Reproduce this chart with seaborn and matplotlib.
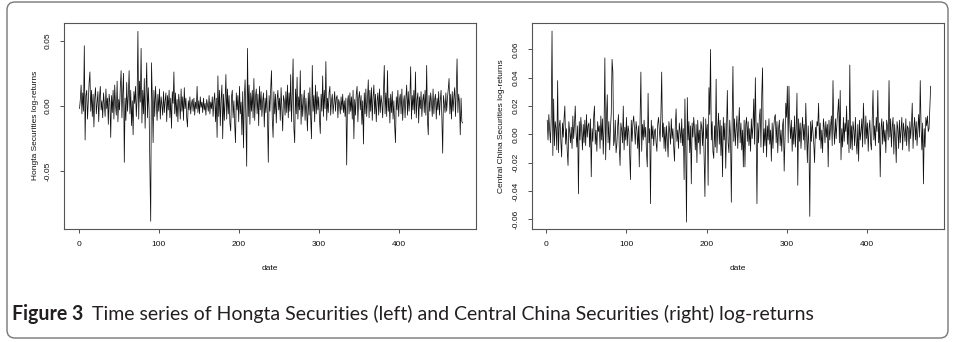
import matplotlib
matplotlib.use("Agg")
import matplotlib.pyplot as plt
import matplotlib.patches as mpatches
import matplotlib.transforms as mtrans
import seaborn as sns
import pandas as pd

# ---------------- data ----------------
hongta = [
    -.002, .005, .016, -.006, .010, -.004, .046, -.026, .008, .012,
    -.010, .004, .018, .026, -.004, .012, -.008, .009, -.016, .006,
    .014, -.006, .002, .011, -.012, .007, .015, -.003, .004, -.009,
    .010, .002, -.008, .013, -.002, .006, -.014, .009, .003, -.024,
    .008, -.005, .012, -.010, .016, .001, -.007, .019, -.012, .005,
    -.003, .014, .027, -.009, .010, .025, -.043, .006, -.011, .018,
    -.004, .008, .027, -.006, .012, -.015, .004, -.022, .011, .002,
    .015, -.008, .006, .057, -.010, .019, .003, .044, -.013, .012,
    -.006, .021, -.017, .009, .033, -.009, .014, -.003, -.049, -.088,
    .033, .006, -.028, .012, -.008, .015, .002, -.011, .009, -.004,
    .013, -.010, .007, .001, -.007, .011, -.005, .004, .010, -.012,
    .008, -.003, .012, -.009, .006, -.017, .011, .002, .026, -.006,
    .010, -.008, .005, -.012, .009, .002, -.010, .013, -.004, .007,
    -.011, .014, -.002, .006, -.009, -.016, .004, -.003, .007, -.006,
    .002, .005, -.004, .006, -.007, .003, -.002, .015, -.005, .004,
    -.006, .007, -.001, .003, -.005, .006, -.003, .002, -.007, .005,
    .001, -.004, .008, -.006, .003, -.002, .007, -.008, .004, .010,
    -.012, .006, -.024, .023, -.008, .012, -.015, .005, .016, -.025,
    .009, -.011, .004, .024, -.010, .013, -.006, .008, -.013, -.019,
    .007, .012, -.009, .004, -.014, -.028, .010, -.003, .008, -.012,
    .015, -.006, .003, -.022, .011, -.032, .006, .020, -.010, -.046,
    .044, -.008, .016, -.014, .010, -.004, .012, -.009, .021, -.011,
    .007, .013, -.006, .009, -.015, .015, -.003, .011, -.008, .004,
    .010, -.016, .006, -.005, .012, -.009, -.043, .008, -.004, .013,
    .027, -.010, -.024, .011, -.006, .009, -.013, .005, .012, -.003,
    .006, -.011, .014, -.002, -.019, .008, .004, -.007, .011, -.005,
    .016, -.009, .010, -.004, .024, -.012, .008, .036, -.017, -.028,
    .013, -.006, .022, -.010, .007, -.003, .027, -.014, .009, -.008,
    .004, .012, -.011, .006, -.005, -.019, .010, -.007, .014, -.009,
    -.025, .031, -.004, .008, -.012, .016, -.006, .011, -.003, .007,
    -.010, -.021, .009, -.004, .023, -.008, .012, -.002, .034, -.011,
    .006, -.005, .010, .015, -.007, .004, .009, -.006, .003, .011,
    -.004, .006, .008, -.009, .005, .002, -.006, .007, -.003, .009,
    -.005, .004, -.008, .006, -.045, .003, .008, -.006, .010, -.004,
    .007, -.010, .012, -.025, .005, -.007, .009, .015, -.012, .006,
    .011, -.003, .008, -.014, .004, -.029, .010, -.006, .013, -.008,
    .005, .020, -.009, .012, -.004, .014, -.011, .007, .016, -.006,
    .009, -.012, .004, .010, -.007, .013, -.005, .008, .002, -.009,
    .012, .031, -.006, .010, -.008, .027, -.004, .006, -.013, .009,
    -.005, .011, -.010, .004, -.015, -.028, .007, -.003, .012, -.008,
    .005, .009, -.006, .013, -.011, .003, .008, -.009, .006, .016,
    -.007, .011, -.004, .006, .030, -.010, .008, -.003, .012, -.006,
    .026, -.009, .005, .010, -.013, .007, -.002, .011, -.008, .004,
    .009, -.005, .012, -.007, .031, -.011, -.022, .008, -.004, .010,
    .003, -.008, .013, -.006, .005, .009, -.010, .006, -.003, .011,
    -.007, .004, .012, -.009, -.036, .008, .002, -.005, .010, -.004,
    .006, .013, .021, -.006, .009, -.010, .011, -.004, .007, .014,
    -.008, .012, .036, -.005, .009, .003, -.022, .006, -.012, -.013,
]

central_china = [
    .010, -.004, .014, .003, -.006, .012, .073, -.015, .025, -.008,
    .009, .004, -.011, .038, -.013, .006, .010, -.005, -.016, .008,
    -.002, .011, .020, -.007, .004, -.012, -.022, .009, .002, -.006,
    .005, -.010, .013, -.003, .007, .020, .001, -.009, .006, -.042,
    .009, -.004, .012, .003, -.011, .007, -.006, .010, -.008, .014,
    -.002, .006, .008, -.009, .011, -.030, .004, -.005, .012, .020,
    -.007, .003, -.012, .009, .002, .006, -.010, .013, -.004, .011,
    -.014, .005, .054, -.018, .012, .028, -.006, .009, -.011, .004,
    .015, .053, .044, -.008, -.004, .010, -.013, -.007, .006, .014,
    -.009, -.022, .008, .003, -.006, .020, -.011, .005, -.004, .012,
    -.008, .006, .002, -.015, -.032, .010, -.005, .008, .013, .004,
    -.007, .009, .003, -.010, .006, -.023, .011, .044, -.012, .007,
    -.004, .010, -.002, .005, -.013, -.023, .029, -.006, .004, -.049,
    .010, -.003, .006, -.008, .002, .004, -.006, -.012, .007, .012,
    .003, -.005, .014, .044, -.002, .008, -.010, .005, -.012, .006,
    -.004, -.016, .009, .002, -.007, .011, -.003, .004, -.009, -.019,
    .006, .018, -.005, .003, -.010, .008, .002, -.006, .011, -.008,
    .004, -.032, .025, -.010, -.062, .026, -.004, .009, -.013, .006,
    -.035, .008, -.002, .012, .004, -.011, .007, -.020, .010, -.006,
    .003, -.014, .009, .005, -.008, .012, -.018, -.044, .011, -.003,
    .007, -.036, .033, .014, .060, -.004, .009, -.012, -.017, .006,
    -.009, .039, -.013, .004, .015, -.007, .010, -.015, .006, -.030,
    .012, -.004, .008, -.024, .003, .031, -.006, -.013, .010, -.002,
    -.048, .009, .048, -.005, .011, -.008, .004, .013, -.010, .006,
    .019, -.006, .008, -.011, .003, -.023, .010, -.023, .007, .012,
    -.005, .009, -.008, .004, -.012, .011, -.003, .006, .025, -.007,
    .040, .002, -.049, .008, -.006, .012, .018, -.009, .028, .047,
    -.013, .004, -.008, .010, -.016, .006, -.004, .011, -.007, .003,
    -.019, .008, -.010, .005, .012, .014, -.006, .009, -.013, .004,
    .010, -.008, .003, -.012, .006, .011, -.026, -.004, .022, .012,
    .034, -.006, .034, .008, -.003, .010, -.012, .005, -.007, .013,
    -.009, .004, .029, -.036, .011, -.005, .008, -.010, .003, .012,
    -.004, .007, -.011, .022, .001, -.020, .006, -.008, -.058, .009,
    -.005, .010, .002, -.007, -.020, .005, -.003, .009, .006, .022,
    -.004, .008, -.010, .003, -.013, .011, .005, -.006, .009, -.002,
    .007, -.023, .010, -.004, .006, .013, -.008, .038, .004, -.007,
    .011, -.003, .009, .016, .025, -.006, .031, -.018, .004, -.009,
    .012, -.005, .008, .002, .020, -.007, .010, -.013, .049, -.010,
    .006, -.011, .009, .003, -.008, .012, -.005, -.014, .007, -.019,
    .010, -.004, .002, .011, -.009, .022, .005, -.007, .013, -.003,
    .008, -.012, .004, .010, -.006, -.011, .009, .031, -.004, .006,
    -.008, .012, .002, .031, -.006, .008, -.030, .004, .011, -.007,
    .009, -.005, .003, -.013, .010, .006, -.004, .038, -.002, .011,
    -.009, .005, .012, -.014, .007, -.003, -.020, .009, .004, -.010,
    .010, -.006, .003, .012, -.011, .008, .002, -.005, .011, -.008,
    .006, .004, -.012, .009, -.003, .007, .022, -.010, .005, .012,
    -.004, .009, -.008, .003, .014, -.002, .038, .006, -.011, .008,
    -.035, .004, -.009, .012, .006, .013, .002, .004, .020, .034,
]

dates = list(range(1, len(hongta) + 1))

x_ticks = [0, 100, 200, 300, 400]
left_y_ticks = [-0.05, 0.00, 0.05]
left_y_labels = ["-0.05", "0.00", "0.05"]
right_y_ticks = [-0.06, -0.04, -0.02, 0.00, 0.02, 0.04, 0.06]
right_y_labels = ["-0.06", "-0.04", "-0.02", "0.00", "0.02", "0.04", "0.06"]

left_ylabel = "Hongta Securities log-returns"
right_ylabel = "Central China Securities log-returns"
xlabel = "date"
caption_bold = "Figure 3"
caption_text = "Time series of Hongta Securities (left) and Central China Securities (right) log-returns"

df = pd.DataFrame({"date": dates, "hongta": hongta, "central": central_china})

# ---------------- drawing ----------------
sns.set_style("white")
plt.rcParams["font.family"] = ["Liberation Sans", "DejaVu Sans"]

W, H = 955, 342
fig = plt.figure(figsize=(W / 100, H / 100), dpi=100)
fig.patch.set_facecolor("white")


def px_axes(x0, y0, x1, y1):
    return [x0 / W, 1 - y1 / H, (x1 - x0) / W, (y1 - y0) / H]


ax1 = fig.add_axes(px_axes(64, 22.7, 475.7, 229))
ax2 = fig.add_axes(px_axes(531.7, 22.7, 943.7, 229))

panels = [
    (ax1, "hongta", (-0.0939, 0.0636), left_y_ticks, left_y_labels, left_ylabel, 4),
    (ax2, "central", (-0.0669, 0.0789), right_y_ticks, right_y_labels, right_ylabel, 5),
]

for ax, col, ylim, yt, ytl, ylab, lpad in panels:
    sns.lineplot(data=df, x="date", y=col, ax=ax, color="#111111", linewidth=0.55)
    ax.set_xlim(-18.4, 496.3)
    ax.set_ylim(*ylim)
    ax.set_xticks(x_ticks)
    ax.set_xticklabels([str(t) for t in x_ticks])
    ax.set_yticks(yt)
    ax.set_yticklabels(ytl, rotation=90, va="center")
    ax.tick_params(axis="both", direction="out", length=3, width=0.6,
                   color="#333333", labelsize=6, labelcolor="#111111",
                   bottom=True, left=True)
    ax.tick_params(axis="x", pad=6)
    ax.tick_params(axis="y", pad=6)
    ax.set_xlabel(xlabel, fontsize=6, labelpad=12, color="#111111")
    ax.set_ylabel(ylab, fontsize=6, labelpad=lpad, color="#111111")
    for s in ax.spines.values():
        s.set_visible(True)
        s.set_color("#555555")
        s.set_linewidth(0.8)
    ax.grid(False)

# rounded frame around the figure
frame = mpatches.FancyBboxPatch((7, 4), 941, 336,
                                boxstyle="round,pad=0,rounding_size=8",
                                transform=mtrans.IdentityTransform(),
                                fill=False, edgecolor="#777777", linewidth=1.0)
fig.patches.append(frame)

# caption (fitted to the reference span 12 px -> 817 px)
cap_y = 1 - 314 / H
cap_font = ["Lato", "DejaVu Sans"]
t1 = fig.text(12 / W, cap_y, caption_bold, fontsize=10, fontweight="bold",
              family=cap_font, va="center", ha="left", color="#231f20")
t2 = fig.text(0, cap_y, caption_text, fontsize=10,
              family=cap_font, va="center", ha="left", color="#231f20")
renderer = fig.canvas.get_renderer()
b1 = t1.get_window_extent(renderer=renderer)
b2 = t2.get_window_extent(renderer=renderer)
total = b1.width + 6 + b2.width
scale = (817 - 12) / total
size = 10 * scale
t1.set_fontsize(size)
t2.set_fontsize(size)
b1 = t1.get_window_extent(renderer=renderer)
t2.set_x((b1.x1 + 6 * scale) / W)

fig.savefig("out.png", dpi=100)
